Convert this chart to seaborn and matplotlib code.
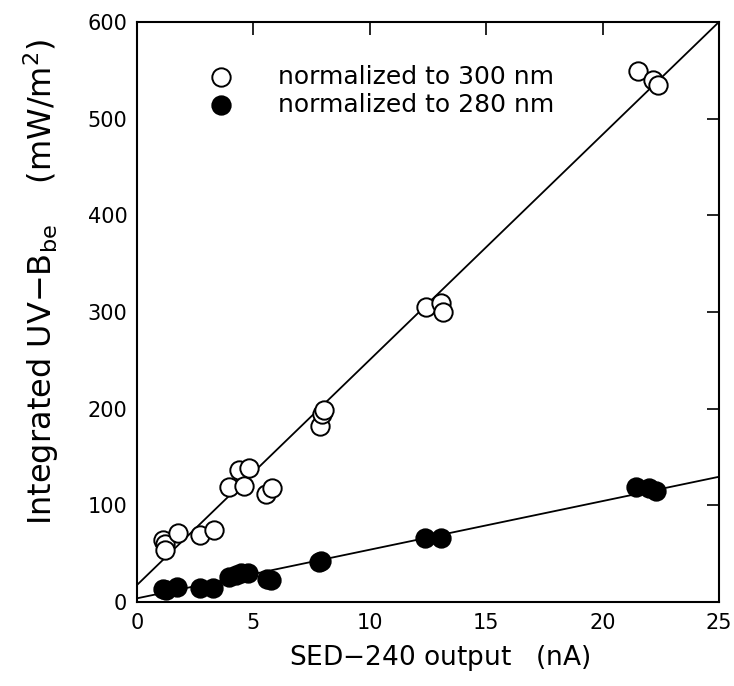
import matplotlib
matplotlib.use("Agg")
import matplotlib.pyplot as plt
import seaborn as sns
import numpy as np
import pandas as pd

# ---- data ----
open_x = [1.12, 1.19, 1.19, 1.76, 2.69, 3.29, 3.97, 4.39, 4.61, 4.79, 5.56, 5.79,
          7.84, 7.95, 8.02, 12.43, 13.07, 13.14, 21.53, 22.17, 22.38]
open_y = [64, 60, 54, 71, 69, 74, 119, 137, 120, 139, 112, 118,
          182, 195, 199, 305, 309, 300, 549, 540, 535]

filled_x = [1.12, 1.25, 1.72, 2.69, 3.26, 3.97, 4.25, 4.47, 4.75, 5.6, 5.75,
            7.81, 7.92, 12.36, 13.07, 21.43, 22.0, 22.31]
filled_y = [13, 12, 16, 15, 15, 26, 28, 30, 30, 24, 23,
            41, 42, 66, 66, 119, 118, 115]

# fitted regression lines (intercept, slope)
fit_open = (17.6, 23.3)
fit_filled = (3.8, 5.03)

labels = ["normalized to 300 nm", "normalized to 280 nm"]
x_ticks = [0, 5, 10, 15, 20, 25]
y_ticks = [0, 100, 200, 300, 400, 500, 600]

sns.set_theme(style="white")
plt.rcParams['font.family'] = ['DejaVu Sans']
plt.rcParams['text.color'] = 'black'
plt.rcParams['axes.labelcolor'] = 'black'

fig = plt.figure(figsize=(7.34, 6.86), dpi=100)
ax = fig.add_axes([137/734, 1-602/686, (719-137)/734, (602-22)/686])

df_open = pd.DataFrame({"x": open_x, "y": open_y})
df_filled = pd.DataFrame({"x": filled_x, "y": filled_y})

# fit lines
xl = np.array([0, 25])
for (b, m) in (fit_open, fit_filled):
    sns.lineplot(x=xl, y=b + m * xl, ax=ax, color="black", lw=1.3)

sns.scatterplot(data=df_open, x="x", y="y", ax=ax, s=175, marker="o",
                facecolor="white", edgecolor="black", linewidth=1.4,
                label=labels[0], zorder=3)
sns.scatterplot(data=df_filled, x="x", y="y", ax=ax, s=175, marker="o",
                facecolor="black", edgecolor="black", linewidth=1.4,
                label=labels[1], zorder=3)

ax.set_xlim(0, 25)
ax.set_ylim(0, 600)
ax.set_xticks(x_ticks)
ax.set_yticks(y_ticks)
ax.tick_params(direction="in", length=9, width=1.2, top=True, right=True,
               labelsize=15, colors="black", pad=8)
ax.tick_params(axis="y", pad=7)
for s in ax.spines.values():
    s.set_linewidth(1.5)
    s.set_color("black")

ax.set_xlabel("SED$-$240 output   (nA)", fontsize=19)
ax.xaxis.set_label_coords(0.52, -0.071)
ax.set_ylabel("Integrated UV$-$B$_{\\rm be}$    (mW/m$^2$)", fontsize=23)
ax.yaxis.set_label_coords(-0.131, 0.552)

leg = ax.legend(loc="upper left", bbox_to_anchor=(0.085, 0.943), frameon=False,
                fontsize=18, handletextpad=1.25, labelspacing=0.15,
                borderaxespad=0)
for t in leg.get_texts():
    t.set_color("black")

fig.savefig("out.png", dpi=100)
